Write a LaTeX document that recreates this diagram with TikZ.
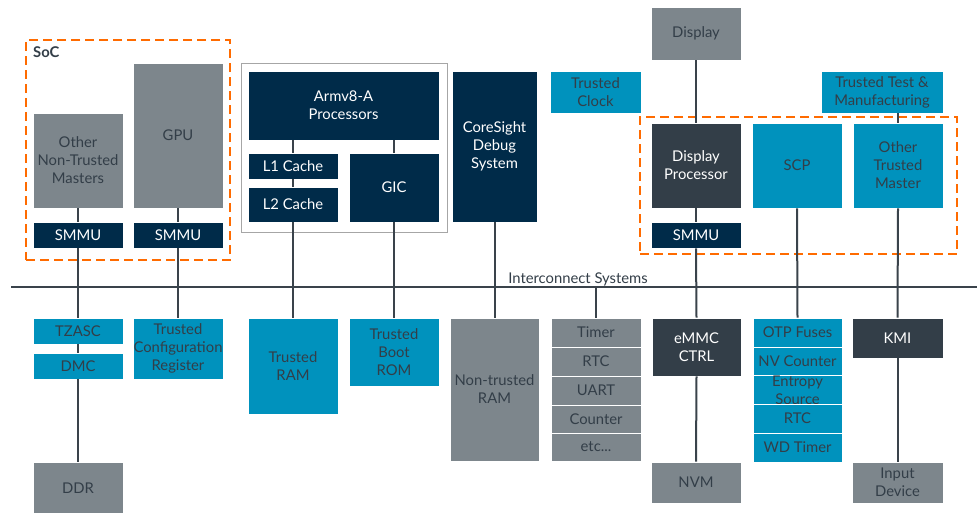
\documentclass[tikz,border=0pt]{standalone}
\usepackage{fontspec}
\setmainfont{Lato}
\definecolor{tblue}{HTML}{0092BD}
\definecolor{ngray}{HTML}{7D868C}
\definecolor{navy}{HTML}{002B49}
\definecolor{slate}{HTML}{333E48}
\definecolor{ornge}{HTML}{FF6B00}
\definecolor{wire}{HTML}{3A434B}
\newcommand\mybox[7]{\node[#1, minimum width={(#5-#3)*1pt}, minimum height={(#6-#4)*1pt}] (#2) at ({(#3+#5)/2},{(#4+#6)/2}) {#7};}
\begin{document}
\begin{tikzpicture}[x=1pt,y=-1pt,
  every node/.style={font=\fontsize{14.8}{18}\selectfont, align=center, inner sep=0pt},
  bx/.style={draw=white, line width=0.8pt, inner sep=0pt},
  trusted/.style={bx, fill=tblue, text=slate},
  plain/.style={bx, fill=ngray, text=slate},
  navybox/.style={bx, fill=navy, text=white},
  slatebox/.style={bx, fill=slate, text=white},
  wrapbox/.style={draw=black!35, line width=1pt},
  wirec/.style={draw=wire, line width=2pt},
  region/.style={draw=ornge, line width=2.2pt, dash pattern=on 9pt off 5pt},
]
\useasboundingbox[fill=white] (0,0) rectangle (977,512);

% bus
\coordinate (busL) at (11,287);
\coordinate (busR) at (977,287);

% ---- top row ----
\mybox{plain}{onm}{33}{113}{123}{208}{Other\\Non-Trusted\\Masters}
\mybox{plain}{gpu}{133}{63}{223}{208}{GPU}
\mybox{navybox}{smmuA}{33}{222}{123}{248}{SMMU}
\mybox{navybox}{smmuB}{133}{222}{223}{248}{SMMU}

\mybox{wrapbox}{cpuwrap}{241}{63}{447}{232}{}
\mybox{navybox}{arm}{248}{71}{439}{140}{Armv8-A\\Processors}
\mybox{navybox}{lone}{248}{153}{338}{179}{L1 Cache}
\mybox{navybox}{ltwo}{248}{187}{338}{222}{L2 Cache}
\mybox{navybox}{gic}{349}{153}{439}{222}{GIC}
\mybox{navybox}{cs}{452}{71}{537}{222}{CoreSight\\Debug\\System}

\mybox{trusted}{tclk}{550}{71}{641}{113}{Trusted\\Clock}
\mybox{plain}{disp}{651}{7}{741}{60}{Display}
\mybox{trusted}{ttm}{821}{71}{943}{113}{Trusted Test \&\\Manufacturing}

\mybox{slatebox}{dp}{651}{123}{741}{208}{Display\\Processor}
\mybox{navybox}{smmuC}{651}{222}{741}{248}{SMMU}
\mybox{trusted}{scp}{752}{123}{842}{208}{SCP}
\mybox{trusted}{otm}{853}{123}{943}{208}{Other\\Trusted\\Master}

% ---- bottom row ----
\mybox{trusted}{tzasc}{33}{318}{123}{344}{TZASC}
\mybox{trusted}{dmc}{33}{353}{123}{379}{DMC}
\mybox{plain}{ddr}{33}{462}{123}{514}{DDR}
\mybox{trusted}{tcr}{133}{318}{223}{379}{Trusted\\Configuration\\Register}
\mybox{trusted}{tram}{248}{318}{338}{414}{Trusted\\RAM}
\mybox{trusted}{trom}{349}{318}{439}{386}{Trusted\\Boot\\ROM}
\mybox{plain}{ntram}{450}{318}{539}{461}{Non-trusted\\RAM}

\mybox{plain}{timer}{551}{318}{641}{347}{Timer}
\mybox{plain}{rtcA}{551}{347}{641}{376}{RTC}
\mybox{plain}{uart}{551}{376}{641}{405}{UART}
\mybox{plain}{cnt}{551}{405}{641}{433}{Counter}
\mybox{plain}{etc}{551}{433}{641}{461}{etc...}

\mybox{slatebox}{emmc}{652}{318}{741}{376}{eMMC\\CTRL}
\mybox{plain}{nvm}{651}{462}{741}{503}{NVM}

\mybox{trusted}{otp}{753}{318}{842}{347}{OTP Fuses}
\mybox{trusted}{nvc}{753}{347}{842}{376}{NV Counter}
\mybox{trusted}{ent}{753}{376}{842}{404}{\fontsize{14.8}{12.5}\selectfont Entropy\\Source}
\mybox{trusted}{rtcB}{753}{404}{842}{433}{RTC}
\mybox{trusted}{wdt}{753}{433}{842}{462}{WD Timer}

\mybox{slatebox}{kmi}{852}{318}{943}{358}{KMI}
\mybox{plain}{indev}{852}{462}{943}{503}{Input\\Device}

% ---- regions ----
\mybox{region}{soc}{26}{40}{230}{260}{}
\node[anchor=west, font=\fontsize{14.8}{18}\selectfont\bfseries, text=slate] (soclbl) at (33,52) {SoC};
\mybox{region}{treg}{640}{117}{957}{254}{}

% ---- connectors ----
\draw[wirec] (busL) -- (busR);
\node[text=slate] (busname) at (578,279) {Interconnect Systems};

\draw[wirec] (onm.south) -- (smmuA.north);
\draw[wirec] (smmuA.south) -- (tzasc.north);
\draw[wirec] (tzasc.south) -- (dmc.north);
\draw[wirec] (dmc.south) -- (ddr.north);
\draw[wirec] (gpu.south) -- (smmuB.north);
\draw[wirec] (smmuB.south) -- (tcr.north);

\draw[wirec] (lone.north) -- (lone.north |- arm.south);
\draw[wirec] (lone.south) -- (ltwo.north);
\draw[wirec] (ltwo.south) -- (tram.north);
\draw[wirec] (gic.north) -- (gic.north |- arm.south);
\draw[wirec] (gic.south) -- (trom.north);
\draw[wirec] (cs.south) -- (ntram.north);
\draw[wirec] (timer.north) -- (timer.north |- busL);

\draw[wirec] (disp.south) -- (dp.north);
\draw[wirec] (dp.south) -- (smmuC.north);
\draw[wirec] (smmuC.south) -- (emmc.north);
\draw[wirec] (emmc.south) -- (nvm.north);
\draw[wirec] (scp.south) -- (otp.north);
\draw[wirec] (otm.north |- ttm.south) -- (otm.north);
\draw[wirec] (otm.south) -- (kmi.north);
\draw[wirec] (kmi.south) -- (indev.north);
\end{tikzpicture}
\end{document}
